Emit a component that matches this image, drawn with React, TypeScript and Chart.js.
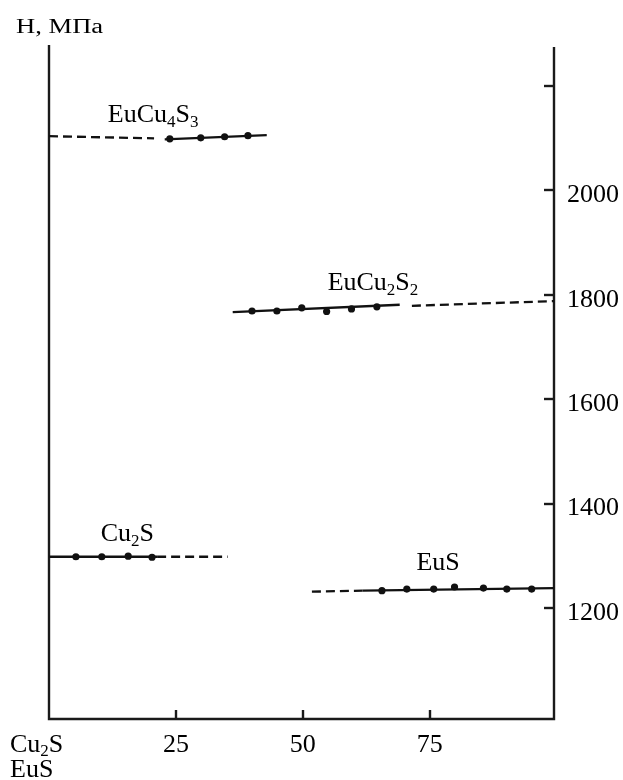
import React, { useEffect, useRef } from "react";
import { Chart, registerables } from "chart.js";
Chart.register(...registerables);

const FONT = '"Liberation Serif", "Times New Roman", serif';

// ---- data ----
// Cu2S phase
const cu2sPtsX = [5.3, 10.4, 15.6, 20.3];
const cu2sPtsY = [1298, 1298, 1299, 1297];
const cu2sSolidX = [0, 21.3];
const cu2sSolidY = [1298, 1298];
const cu2sDashX = [21.3, 35.2];
const cu2sDashY = [1298, 1298];

// EuCu4S3 phase
const eucu4s3PtsX = [23.8, 29.9, 34.6, 39.2];
const eucu4s3PtsY = [2099, 2101, 2103, 2105];
const eucu4s3SolidX = [22.8, 42.9];
const eucu4s3SolidY = [2098, 2106];
const eucu4s3DashX = [0, 20.7];
const eucu4s3DashY = [2104, 2100];

// EuCu2S2 phase
const eucu2s2PtsX = [40.0, 44.9, 49.8, 54.7, 59.6, 64.6];
const eucu2s2PtsY = [1769, 1769, 1775, 1768, 1773, 1777];
const eucu2s2SolidX = [36.2, 69.1];
const eucu2s2SolidY = [1767, 1781];
const eucu2s2DashX = [71.5, 99.5];
const eucu2s2DashY = [1779, 1788];

// EuS phase
const eusPtsX = [65.6, 70.5, 75.8, 79.9, 85.6, 90.2, 95.1];
const eusPtsY = [1233, 1236, 1236, 1240, 1238, 1236, 1236];
const eusSolidX = [61.8, 99.5];
const eusSolidY = [1233, 1238];
const eusDashX = [51.8, 61.8];
const eusDashY = [1231, 1233];

// phase names and where they are written (data coordinates, baseline-left)
const phaseNames = ["EuCu₄S₃", "EuCu₂S₂", "Cu₂S", "EuS"];
const phaseLabelX = [11.6, 54.9, 10.2, 72.4];
const phaseLabelY = [2131, 1809, 1328, 1273];

// axes
const xMin = 0;
const xMax = 99.5;
const yMin = 987;
const yMax = 2275;
const xTickValues = [25, 50, 75];
const xTickLabels = ["25", "50", "75"];
const yTickValues = [1200, 1400, 1600, 1800, 2000, 2200];
const yTickLabels = ["1200", "1400", "1600", "1800", "2000", ""];
const xEndLabels = ["Cu₂S", "EuS"];
const yTitle = "H, МПа";

const INK = "#111";

function pts(xs: number[], ys: number[]) {
  return xs.map((x, i) => ({ x, y: ys[i] }));
}

function drawRich(ctx: CanvasRenderingContext2D, text: string, x: number, y: number, size: number) {
  const subs = "₀₁₂₃₄₅₆₇₈₉";
  let cx = x;
  for (const ch of text) {
    const k = subs.indexOf(ch);
    if (k >= 0) {
      ctx.font = `${Math.round(size * 0.66)}px ${FONT}`;
      ctx.fillText(String(k), cx, y + size * 0.17);
      cx += ctx.measureText(String(k)).width;
    } else {
      ctx.font = `${size}px ${FONT}`;
      ctx.fillText(ch, cx, y);
      cx += ctx.measureText(ch).width;
    }
  }
}

const framePlugin = {
  id: "frame",
  beforeDatasetsDraw(chart: any) {
    const { ctx, chartArea } = chart;
    const xs = chart.scales.x;
    const ys = chart.scales.y;
    ctx.save();
    ctx.strokeStyle = "#1a1a1a";
    ctx.lineWidth = 2.4;
    ctx.beginPath();
    ctx.moveTo(chartArea.left, chartArea.top - 2);
    ctx.lineTo(chartArea.left, chartArea.bottom);
    ctx.lineTo(chartArea.right, chartArea.bottom);
    ctx.lineTo(chartArea.right, chartArea.top);
    ctx.stroke();
    for (const v of xTickValues) {
      const px = Math.round(xs.getPixelForValue(v));
      ctx.beginPath();
      ctx.moveTo(px, chartArea.bottom);
      ctx.lineTo(px, chartArea.bottom - 9);
      ctx.stroke();
    }
    for (const v of yTickValues) {
      const py = Math.round(ys.getPixelForValue(v));
      ctx.beginPath();
      ctx.moveTo(chartArea.right, py);
      ctx.lineTo(chartArea.right - 10, py);
      ctx.stroke();
    }
    ctx.restore();
  },
  afterDraw(chart: any) {
    const { ctx, chartArea } = chart;
    const xs = chart.scales.x;
    const ys = chart.scales.y;
    ctx.save();
    ctx.fillStyle = "#000";
    ctx.textBaseline = "alphabetic";
    ctx.textAlign = "left";
    phaseNames.forEach((n, i) => {
      drawRich(ctx, n, xs.getPixelForValue(phaseLabelX[i]), ys.getPixelForValue(phaseLabelY[i]), 26);
    });
    // x-axis end labels
    drawRich(ctx, xEndLabels[0], chartArea.left - 39, chartArea.bottom + 33, 26);
    drawRich(ctx, xEndLabels[1], chartArea.left - 39, chartArea.bottom + 58, 26);
    // y title
    ctx.save();
    ctx.translate(16, 33);
    ctx.scale(1.33, 1);
    ctx.font = `20px ${FONT}`;
    ctx.fillText(yTitle, 0, 0);
    ctx.restore();
    ctx.restore();
  },
};

export default function App() {
  const ref = useRef<HTMLCanvasElement | null>(null);
  useEffect(() => {
    document.body.style.margin = "0";
    const canvas = ref.current!;
    const solid = (xs: number[], ys: number[]) => ({
      type: "line" as const,
      data: pts(xs, ys),
      borderColor: INK,
      borderWidth: 2.3,
      pointRadius: 0,
      fill: false,
      clip: false as any,
    });
    const dashed = (xs: number[], ys: number[]) => ({
      ...solid(xs, ys),
      borderDash: [9, 5],
    });
    const dots = (xs: number[], ys: number[]) => ({
      type: "scatter" as const,
      data: pts(xs, ys),
      showLine: false,
      pointRadius: 3.6,
      pointBackgroundColor: INK,
      pointBorderColor: INK,
      pointBorderWidth: 0,
      clip: false as any,
    });
    const chart = new Chart(canvas, {
      type: "scatter",
      data: {
        datasets: [
          solid(cu2sSolidX, cu2sSolidY),
          dashed(cu2sDashX, cu2sDashY),
          dots(cu2sPtsX, cu2sPtsY),
          solid(eucu4s3SolidX, eucu4s3SolidY),
          dashed(eucu4s3DashX, eucu4s3DashY),
          dots(eucu4s3PtsX, eucu4s3PtsY),
          solid(eucu2s2SolidX, eucu2s2SolidY),
          dashed(eucu2s2DashX, eucu2s2DashY),
          dots(eucu2s2PtsX, eucu2s2PtsY),
          solid(eusSolidX, eusSolidY),
          dashed(eusDashX, eusDashY),
          dots(eusPtsX, eusPtsY),
        ] as any,
      },
      options: {
        animation: false,
        responsive: false,
        maintainAspectRatio: false,
        layout: { padding: { left: 49, top: 47, right: 0, bottom: 0 } },
        plugins: { legend: { display: false }, tooltip: { enabled: false } },
        scales: {
          x: {
            type: "linear",
            position: "bottom",
            min: xMin,
            max: xMax,
            grid: { display: false, drawTicks: false },
            border: { display: false },
            afterBuildTicks: (s: any) => {
              s.ticks = xTickValues.map((v) => ({ value: v }));
            },
            afterFit: (s: any) => {
              s.height = 61;
            },
            ticks: {
              autoSkip: false,
              maxRotation: 0,
              padding: 11,
              color: "#000",
              font: { family: FONT, size: 26 },
              callback: (_v: any, i: number) => xTickLabels[i],
            },
          },
          y: {
            type: "linear",
            position: "right",
            min: yMin,
            max: yMax,
            grid: { display: false, drawTicks: false },
            border: { display: false },
            afterBuildTicks: (s: any) => {
              s.ticks = yTickValues.map((v) => ({ value: v }));
            },
            afterFit: (s: any) => {
              s.width = 69;
            },
            ticks: {
              autoSkip: false,
              padding: 13,
              labelOffset: 5,
              color: "#000",
              font: { family: FONT, size: 26 },
              callback: (_v: any, i: number) => yTickLabels[i],
            },
          },
        },
      },
      plugins: [framePlugin],
    });
    return () => chart.destroy();
  }, []);
  return (
    <div style={{ position: "absolute", left: 0, top: 0, width: 623, height: 780, background: "#fff" }}>
      <canvas ref={ref} width={623} height={780} style={{ display: "block" }} />
    </div>
  );
}
